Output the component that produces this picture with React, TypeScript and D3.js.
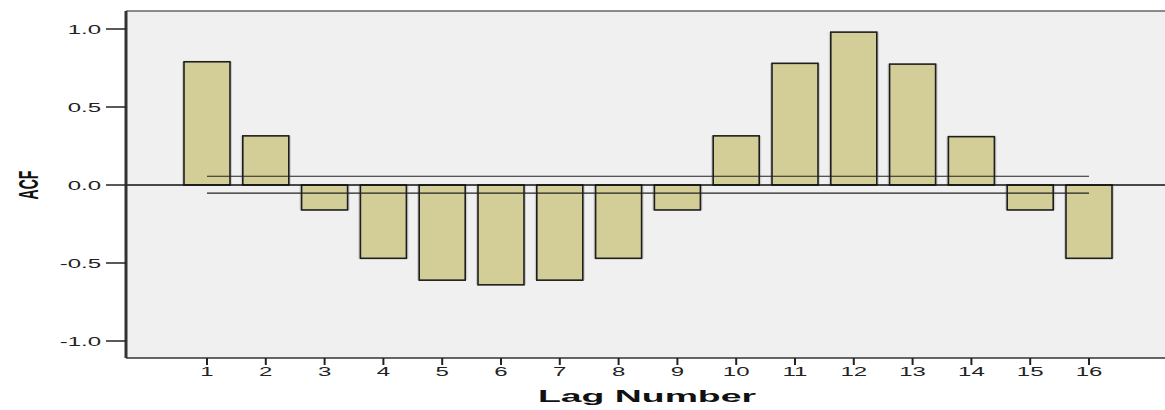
import React from "react";
import * as d3 from "d3";

const lags = [1, 2, 3, 4, 5, 6, 7, 8, 9, 10, 11, 12, 13, 14, 15, 16];
const acf = [0.79, 0.315, -0.16, -0.47, -0.61, -0.64, -0.61, -0.47, -0.16, 0.315, 0.78, 0.98, 0.775, 0.31, -0.16, -0.47];
const upperLimit = [0.056];
const lowerLimit = [-0.052];
const yTicks = [-1.0, -0.5, 0.0, 0.5, 1.0];

export default function App() {
  const W = 1165, H = 410;
  const left = 126, right = 1165, top = 11, bottom = 358;
  const x = d3.scaleLinear().domain([1, 16]).range([207, 1089]);
  const y = d3.scaleLinear().domain([-1, 1]).range([341, 29]);
  const bw = 46;
  const font = "'Liberation Sans', Arial, sans-serif";
  return (
    <svg width={W} height={H} style={{ position: "absolute", left: 0, top: 0 }}>
      <rect x={0} y={0} width={W} height={H} fill="#fff" />
      <rect x={left} y={top} width={right - left} height={bottom - top} fill="#f0f0f0" />
      <line x1={left} x2={right} y1={top} y2={top} stroke="#666" strokeWidth={1.5} />
      {lags.map((l, i) => {
        const v = acf[i];
        const y0 = y(0), y1 = y(v);
        return (
          <g key={l}>
            <rect x={x(l) - bw / 2 - 2} y={Math.min(y0, y1)} width={bw + 4} height={Math.abs(y1 - y0)} fill="#777" opacity={0.3} />
            <rect x={x(l) - bw / 2} y={Math.min(y0, y1)} width={bw} height={Math.abs(y1 - y0)} fill="#d3ce97" stroke="#1e1e1e" strokeWidth={1.6} />
          </g>
        );
      })}
      <line x1={left} x2={right} y1={y(0)} y2={y(0)} stroke="#111" strokeWidth={1.3} />
      <line x1={x(1)} x2={x(16)} y1={y(upperLimit[0])} y2={y(upperLimit[0])} stroke="#222" strokeWidth={1.2} />
      <line x1={x(1)} x2={x(16)} y1={y(lowerLimit[0])} y2={y(lowerLimit[0])} stroke="#222" strokeWidth={1.2} />
      <line x1={left} x2={left} y1={top} y2={bottom} stroke="#333" strokeWidth={3} />
      <line x1={left} x2={right} y1={bottom} y2={bottom} stroke="#333" strokeWidth={1.5} />
      {yTicks.map((t) => (
        <g key={t}>
          <line x1={106} x2={left} y1={y(t)} y2={y(t)} stroke="#222" strokeWidth={1.5} />
          <text transform={`translate(101,${y(t) + 4.5}) scale(2,1)`} textAnchor="end" fontFamily={font} fontSize={12} fill="#222">
            {t.toFixed(1)}
          </text>
        </g>
      ))}
      {lags.map((l) => (
        <g key={l}>
          <line x1={x(l)} x2={x(l)} y1={bottom} y2={bottom + 7} stroke="#222" strokeWidth={2} />
          <text transform={`translate(${x(l)},${bottom + 18}) scale(2,1)`} textAnchor="middle" fontFamily={font} fontSize={12} fill="#222">
            {l}
          </text>
        </g>
      ))}
      <text transform="translate(647,402) scale(2.2,1)" textAnchor="middle" fontFamily={font} fontSize={17} fontWeight="bold" fill="#111">
        Lag Number
      </text>
      <text transform="translate(38,185) scale(2,1) rotate(-90)" textAnchor="middle" fontFamily={font} fontSize={14} fontWeight="bold" fill="#111">
        ACF
      </text>
    </svg>
  );
}
